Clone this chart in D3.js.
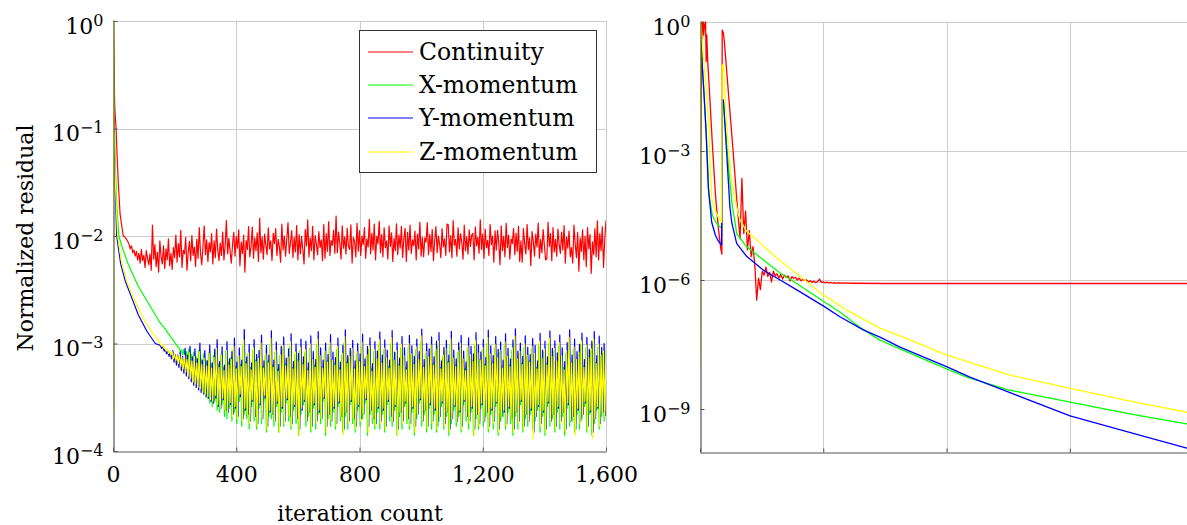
<!DOCTYPE html>
<html lang="en">
<meta charset="utf-8">
<head>
<script src="https://d3js.org/d3.v7.min.js"></script>
<style>
  body { margin: 0; background: #fff; }
  text { font-family: "DejaVu Serif", serif; fill: #000; }
</style>
</head>
<body>
<script>
// ---------------- data ----------------
var seriesNames = ["Continuity", "X-momentum", "Y-momentum", "Z-momentum"];
var seriesColors = ["#ff0000", "#00ff00", "#0000ff", "#ffff00"];

var xTicks = [0, 400, 800, 1200, 1600];
var leftYTicks = [1, 1e-1, 1e-2, 1e-3, 1e-4];
var rightYTicks = [1, 1e-3, 1e-6, 1e-9];

// left run: start of each curve, [iteration, residual]
var contHead = [[0, 1], [1, 1], [3, 0.35], [6, 0.15], [10, 0.1], [14, 0.05], [17, 0.032], [23, 0.016], [33, 0.0101], [42, 0.0095]];
var xmomHead = [[0, 1], [1, 1], [2, 0.45], [4, 0.12], [8, 0.04], [13, 0.018], [19, 0.01], [30, 0.0078], [50, 0.0054], [80, 0.0035],
  [110, 0.0025], [137, 0.00185]];
var ymomHead = [[0, 1], [1, 1], [2, 0.35], [4, 0.08], [7, 0.03], [12, 0.01], [25, 0.0055], [40, 0.0038], [60, 0.0027], [82, 0.00185],
  [110, 0.0013], [137, 0.001]];
var zmomHead = [[0, 0.00022], [1, 1], [2, 0.4], [4, 0.1], [8, 0.03], [15, 0.01], [28, 0.0057], [45, 0.0038], [65, 0.0027], [90, 0.0019],
  [120, 0.00135]];

// left run: oscillating part, one value every noiseStep iterations
var noiseStep = 4;
var contStart = 48, xmomStart = 150, ymomStart = 154, zmomStart = 152;
var contUnit = 1e-3, momUnit = 1e-4;
var contNoise = [
  8.9, 8.4, 7.6, 8.1, 7.0, 7.4, 6.5, 7.2, 6.0, 6.9, 5.6, 7.5, 5.9, 6.6, 5.1, 7.3, 6.2, 5.4, 6.8, 4.8,
  12.6, 6.1, 8.3, 5.2, 7.1, 4.6, 9.0, 6.4, 5.5, 8.1, 5.0, 7.6, 6.0, 9.4, 5.3, 6.9, 4.9, 7.8, 6.3, 10.2,
  5.7, 8.5, 6.4, 11.3, 5.1, 7.4, 6.8, 9.7, 4.8, 7.0, 8.9, 5.9, 10.1, 6.6, 7.9, 5.2, 9.3, 6.2, 12.0, 6.9,
  5.4, 8.0, 12.4, 6.7, 9.2, 5.8, 8.7, 7.1, 10.5, 5.5, 9.0, 6.3, 11.6, 7.4, 5.9, 8.6, 6.6, 10.9, 6.0, 8.2,
  13.9, 6.8, 9.5, 7.2, 5.6, 8.4, 10.8, 6.5, 9.9, 7.7, 11.4, 5.3, 8.8, 6.9, 10.2, 4.6, 9.1, 7.5, 12.2, 6.4,
  8.0, 12.1, 6.2, 9.6, 7.3, 10.7, 5.8, 14.6, 7.0, 9.8, 6.1, 10.4, 8.3, 6.7, 11.9, 7.6, 9.0, 5.9, 10.6, 8.5,
  11.7, 6.6, 9.3, 7.9, 5.7, 12.9, 7.4, 10.0, 6.5, 9.4, 13.3, 6.9, 8.7, 11.2, 6.3, 9.7, 7.1, 12.5, 6.0, 10.3,
  6.8, 9.9, 7.5, 5.5, 11.5, 8.1, 14.1, 6.4, 9.6, 7.3, 12.3, 6.0, 10.1, 8.4, 6.7, 11.0, 7.8, 9.2, 5.9, 12.8,
  6.2, 10.5, 7.2, 13.6, 6.6, 9.1, 8.2, 11.3, 6.9, 15.3, 7.0, 10.9, 8.6, 6.1, 12.4, 7.7, 9.8, 6.8, 11.8, 8.0,
  7.5, 12.7, 5.6, 9.7, 8.9, 6.4, 13.1, 7.2, 11.2, 6.6, 10.0, 8.3, 12.0, 6.2, 9.4, 7.9, 14.3, 6.8, 10.6, 7.4,
  12.9, 6.0, 9.9, 8.5, 13.7, 7.0, 10.3, 6.4, 11.9, 7.8, 9.0, 6.1, 12.4, 8.0, 10.7, 5.8, 9.5, 7.3, 13.0, 6.7,
  10.2, 7.7, 12.3, 6.3, 9.5, 11.8, 5.8, 10.8, 7.4, 12.6, 6.9, 9.2, 8.1, 11.1, 6.0, 10.4, 7.6, 13.4, 6.5, 9.7,
  6.4, 9.6, 8.8, 13.3, 6.7, 10.3, 7.2, 11.5, 5.9, 9.1, 12.2, 7.0, 10.0, 8.4, 6.3, 11.7, 7.9, 9.4, 6.6, 12.9,
  12.7, 7.1, 10.1, 6.3, 13.9, 8.2, 9.3, 6.5, 11.9, 7.6, 10.5, 8.7, 6.1, 12.6, 7.3, 9.8, 6.8, 11.4, 8.0, 10.2,
  10.6, 6.0, 12.1, 8.1, 9.7, 6.9, 14.1, 7.5, 10.4, 6.2, 11.6, 7.8, 9.1, 6.6, 12.8, 8.3, 10.0, 5.7, 11.2, 7.4,
  11.3, 8.6, 5.4, 12.4, 7.3, 9.9, 6.4, 13.1, 7.8, 10.2, 6.1, 9.4, 8.5, 11.8, 6.7, 10.6, 7.2, 12.3, 5.8, 9.0,
  5.7, 11.7, 8.4, 6.8, 12.8, 7.5, 9.6, 5.3, 11.0, 8.9, 6.5, 10.4, 7.9, 13.2, 6.2, 9.3, 7.0, 11.5, 8.2, 6.0,
  6.1, 13.4, 8.0, 10.5, 5.9, 12.0, 7.1, 9.3, 6.5, 11.6, 8.3, 6.9, 10.9, 7.4, 12.5, 5.6, 9.8, 7.7, 11.1, 6.4,
  7.8, 5.6, 12.6, 8.5, 6.3, 10.8, 4.7, 9.6, 7.2, 11.4, 6.0, 9.9, 5.2, 12.0, 7.6, 10.3, 4.5, 8.8, 6.7, 11.7,
  6.4, 13.8, 6.0, 10.5, 7.3, 12.2, 5.1, 9.4, 13.9];
var xmomNoise = [
  16.0, 15.5, 15.0, 14.6, 14.0, 13.6, 13.1, 12.5, 12.2, 11.6, 11.3, 10.8, 10.5, 10.0, 9.8, 9.3, 9.2, 8.6, 8.7, 7.9,
  8.8, 7.2, 8.4, 6.6, 8.9, 6.0, 7.9, 5.4, 8.3, 4.9, 7.5, 4.4, 8.6, 4.0, 7.2, 3.7, 8.0, 3.4, 7.0, 3.1,
  8.2, 2.8, 6.5, 2.6, 7.7, 2.9, 8.9, 2.4, 6.4, 2.3, 7.9, 2.7, 6.0, 2.1, 8.5, 2.0, 6.7, 2.5, 7.4, 1.9,
  8.8, 2.3, 6.1, 1.8, 7.6, 2.9, 6.4, 1.7, 9.6, 2.2, 6.8, 2.0, 8.0, 1.6, 6.0, 2.6, 8.7, 1.9, 7.0, 1.6,
  7.4, 2.5, 9.2, 1.8, 6.2, 2.9, 7.8, 1.5, 6.9, 2.1, 9.8, 2.0, 6.3, 1.7, 8.3, 2.6, 5.8, 1.5, 7.7, 2.3,
  8.9, 1.7, 6.5, 2.8, 7.3, 1.9, 9.4, 1.6, 6.0, 2.4, 7.9, 1.8, 7.0, 1.4, 8.6, 2.2, 6.6, 2.7, 8.2, 1.7,
  5.9, 2.1, 9.0, 1.5, 7.2, 2.5, 6.3, 1.6, 9.7, 2.2, 7.6, 1.8, 6.1, 2.9, 8.1, 1.4, 6.9, 2.0, 9.2, 1.7,
  7.1, 2.3, 6.5, 1.6, 8.8, 2.6, 6.0, 1.9, 7.8, 1.5, 10.1, 2.1, 6.7, 1.6, 7.4, 2.7, 8.5, 1.8, 6.1, 1.5,
  8.0, 2.4, 7.0, 1.7, 9.3, 2.0, 6.4, 2.8, 7.6, 1.4, 8.8, 2.2, 5.9, 1.8, 8.4, 1.6, 7.1, 2.3, 9.6, 1.6,
  6.8, 2.2, 8.6, 1.5, 7.3, 2.7, 6.1, 1.9, 9.9, 1.7, 7.0, 2.4, 8.2, 1.4, 6.4, 2.1, 9.0, 1.6, 7.5, 2.6,
  6.0, 1.8, 9.1, 1.6, 7.8, 2.3, 6.6, 1.4, 8.7, 2.0, 7.0, 2.8, 10.2, 1.7, 6.2, 2.2, 8.0, 1.5, 7.3, 2.5,
  8.9, 1.6, 6.5, 2.2, 8.4, 1.5, 9.5, 1.9, 6.0, 2.6, 7.6, 1.6, 8.5, 2.1, 6.8, 1.4, 9.8, 1.8, 7.1, 2.4,
  6.3, 1.7, 8.2, 2.1, 9.3, 1.5, 7.0, 2.7, 5.9, 1.9, 8.9, 1.6, 7.6, 2.3, 6.9, 1.4, 9.6, 2.0, 7.9, 1.6,
  7.1, 2.5, 8.7, 1.7, 6.4, 2.1, 10.0, 1.5, 7.7, 2.2, 6.7, 1.6, 9.0, 2.6, 7.2, 1.4, 8.3, 1.9, 6.1, 2.1,
  9.5, 1.6, 7.4, 2.3, 6.3, 1.8, 8.6, 1.4, 10.3, 2.1, 7.0, 1.6, 8.1, 2.7, 6.5, 1.5, 9.2, 2.0, 7.5, 1.7,
  6.9, 2.2, 8.8, 1.6, 7.8, 1.9, 6.0, 2.4, 9.6, 1.5, 7.1, 2.1, 8.4, 1.4, 6.5, 2.6, 10.0, 1.7, 7.3, 2.0,
  8.5, 1.5, 6.8, 2.3, 9.4, 1.6, 7.5, 2.1, 6.0, 1.4, 8.2, 2.5, 10.1, 1.7, 6.6, 1.9, 8.8, 1.5, 7.0, 2.2,
  7.9, 1.6, 9.7, 2.0, 6.2, 2.6, 9.0, 1.5, 7.3, 2.2, 8.5, 1.4, 9.9, 1.8, 6.6, 2.4, 9.3, 1.6, 7.6, 2.1,
  8.1, 1.9, 8.6];
var ymomNoise = [
  9.6, 9.0, 9.3, 8.5, 8.8, 8.0, 8.5, 7.6, 8.2, 7.2, 8.6, 6.7, 7.9, 6.3, 7.8, 6.0, 8.4, 5.6, 7.6, 5.3,
  9.0, 5.0, 7.8, 4.7, 9.4, 4.4, 7.5, 4.1, 8.9, 3.9, 7.2, 3.7, 10.1, 3.5, 7.0, 3.4, 8.6, 3.2, 6.9, 3.1,
  9.7, 2.9, 6.6, 2.8, 8.8, 3.1, 10.9, 2.6, 6.8, 2.5, 9.3, 3.0, 6.3, 2.4, 10.4, 2.3, 7.2, 2.7, 8.4, 2.2,
  11.2, 2.5, 6.7, 2.1, 9.1, 3.2, 7.0, 2.0, 13.5, 2.4, 7.5, 2.2, 9.8, 1.9, 6.6, 2.9, 10.9, 2.1, 7.9, 1.8,
  8.6, 2.7, 12.0, 2.0, 6.9, 3.1, 9.6, 1.7, 7.8, 2.3, 13.1, 2.2, 7.0, 1.9, 10.3, 2.8, 6.4, 1.7, 9.4, 2.5,
  11.5, 1.9, 7.3, 3.0, 8.9, 2.1, 12.3, 1.8, 6.8, 2.6, 9.9, 2.0, 8.1, 1.6, 11.0, 2.4, 7.5, 2.9, 10.5, 1.9,
  6.6, 2.3, 11.8, 1.7, 8.4, 2.7, 7.1, 1.9, 12.9, 2.3, 9.1, 2.0, 7.0, 3.1, 10.1, 1.7, 7.9, 2.2, 12.1, 1.9,
  8.3, 2.5, 7.4, 1.8, 11.2, 2.8, 6.7, 2.1, 9.6, 1.6, 13.4, 2.3, 7.7, 1.9, 9.0, 2.9, 10.7, 2.0, 6.9, 1.7,
  10.0, 2.6, 8.0, 2.0, 12.2, 2.2, 7.2, 3.0, 9.4, 1.7, 11.3, 2.4, 6.5, 2.0, 10.4, 1.8, 8.5, 2.5, 12.8, 1.9,
  7.8, 2.4, 10.8, 1.7, 8.7, 2.9, 7.0, 2.1, 13.2, 1.9, 8.3, 2.6, 10.2, 1.6, 7.3, 2.3, 11.6, 1.9, 9.1, 2.8,
  6.8, 2.0, 11.9, 1.8, 9.5, 2.5, 7.6, 1.7, 11.0, 2.2, 8.4, 3.0, 13.6, 1.9, 7.1, 2.4, 10.0, 1.7, 8.9, 2.7,
  11.5, 1.9, 7.5, 2.4, 10.5, 1.7, 12.6, 2.1, 6.9, 2.8, 9.2, 1.8, 10.7, 2.3, 7.8, 1.6, 13.0, 2.0, 8.7, 2.6,
  7.2, 1.9, 10.2, 2.3, 11.9, 1.7, 8.5, 2.9, 6.7, 2.1, 11.3, 1.9, 9.4, 2.5, 8.0, 1.6, 12.6, 2.2, 9.7, 1.8,
  8.3, 2.7, 10.9, 1.9, 7.4, 2.3, 13.3, 1.7, 9.5, 2.4, 7.7, 1.9, 11.6, 2.8, 8.8, 1.6, 10.3, 2.1, 7.0, 2.3,
  12.3, 1.8, 9.0, 2.5, 7.2, 2.0, 10.8, 1.6, 13.7, 2.3, 8.5, 1.9, 10.1, 2.9, 7.6, 1.7, 11.8, 2.2, 9.2, 1.9,
  7.9, 2.4, 11.1, 1.5, 9.6, 2.1, 6.9, 2.6, 12.4, 1.8, 8.7, 2.3, 10.5, 1.6, 7.5, 2.8, 13.1, 1.9, 9.0, 2.2,
  10.6, 1.7, 8.2, 2.5, 12.0, 1.9, 9.1, 2.3, 6.8, 1.6, 10.2, 2.7, 13.4, 1.9, 7.8, 2.1, 11.0, 1.6, 8.4, 2.4,
  9.8, 1.9, 12.5, 2.2, 7.1, 2.8, 11.4, 1.7, 8.8, 2.3, 10.5, 1.5, 12.9, 2.0, 7.7, 2.5, 11.7, 1.8, 9.2, 2.3,
  10.0, 2.1];
var zmomNoise = [
  10.2, 9.6, 9.8, 9.1, 9.3, 8.6, 8.9, 8.1, 8.5, 7.8, 8.4, 7.2, 8.0, 6.9, 7.7, 6.5, 7.9, 6.1, 7.4, 5.8,
  7.8, 5.4, 7.1, 5.0, 8.2, 4.7, 6.9, 4.4, 7.6, 4.2, 6.6, 3.9, 8.4, 3.8, 6.4, 3.5, 7.3, 3.4, 6.2, 3.2,
  8.1, 3.0, 5.9, 2.9, 7.4, 3.3, 9.0, 2.7, 6.0, 2.5, 7.8, 3.1, 5.6, 2.4, 8.6, 2.3, 6.3, 2.8, 7.1, 2.1,
  9.4, 2.6, 5.8, 2.0, 7.7, 3.4, 6.1, 1.9, 10.8, 2.5, 6.5, 2.2, 8.2, 1.8, 5.7, 3.0, 9.1, 2.1, 6.8, 1.7,
  7.3, 2.8, 10.1, 2.0, 5.9, 3.3, 8.0, 1.6, 6.6, 2.4, 11.2, 2.2, 6.0, 1.9, 8.7, 2.9, 5.5, 1.5, 7.9, 2.6,
  9.6, 1.8, 6.2, 3.1, 7.5, 2.1, 10.4, 1.7, 5.8, 2.7, 8.3, 2.0, 6.9, 1.4, 9.2, 2.5, 6.4, 3.0, 8.8, 1.9,
  5.6, 2.3, 9.9, 1.6, 7.1, 2.8, 6.0, 1.8, 11.0, 2.4, 7.7, 2.0, 5.9, 3.2, 8.5, 1.5, 6.7, 2.2, 10.2, 1.9,
  7.0, 2.6, 6.3, 1.7, 9.4, 2.9, 5.7, 2.1, 8.1, 1.4, 11.6, 2.3, 6.5, 1.8, 7.6, 3.0, 9.0, 2.0, 5.8, 1.6,
  8.4, 2.7, 6.8, 1.9, 10.3, 2.2, 6.1, 3.1, 7.9, 1.5, 9.5, 2.4, 5.5, 2.0, 8.8, 1.7, 7.2, 2.6, 10.9, 1.8,
  6.6, 2.5, 9.1, 1.6, 7.4, 3.0, 5.9, 2.1, 11.3, 1.9, 7.0, 2.7, 8.6, 1.4, 6.2, 2.3, 9.8, 1.8, 7.7, 2.9,
  5.7, 2.0, 10.0, 1.7, 8.0, 2.6, 6.4, 1.5, 9.3, 2.2, 7.1, 3.1, 11.8, 1.9, 6.0, 2.4, 8.4, 1.6, 7.5, 2.8,
  9.7, 1.8, 6.3, 2.5, 8.9, 1.6, 10.6, 2.1, 5.8, 2.9, 7.8, 1.7, 9.0, 2.3, 6.6, 1.5, 11.1, 2.0, 7.3, 2.7,
  6.1, 1.9, 8.6, 2.4, 10.1, 1.6, 7.2, 3.0, 5.6, 2.1, 9.5, 1.8, 7.9, 2.6, 6.8, 1.4, 10.7, 2.2, 8.2, 1.7,
  7.0, 2.8, 9.2, 1.9, 6.2, 2.3, 11.4, 1.6, 8.0, 2.5, 6.5, 1.8, 9.8, 2.9, 7.4, 1.5, 8.7, 2.1, 5.9, 2.4,
  10.4, 1.7, 7.6, 2.6, 6.1, 2.0, 9.1, 1.5, 11.7, 2.3, 7.2, 1.8, 8.5, 3.0, 6.4, 1.6, 10.0, 2.2, 7.8, 1.9,
  6.7, 2.5, 9.4, 1.3, 8.1, 2.1, 5.8, 2.7, 10.5, 1.7, 7.3, 2.4, 8.9, 1.5, 6.3, 2.9, 11.2, 1.9, 7.6, 2.2,
  9.0, 1.6, 6.9, 2.6, 10.2, 1.8, 7.7, 2.3, 5.7, 1.5, 8.6, 2.8, 11.5, 1.9, 6.6, 2.1, 9.3, 1.4, 7.1, 2.5,
  8.3, 1.8, 10.6, 2.2, 6.0, 2.9, 9.7, 1.6, 7.4, 2.4, 8.9, 1.3, 11.0, 2.0, 6.5, 2.6, 9.9, 1.7, 7.8, 2.3,
  8.5, 2.1, 9.2];

// right run, [iteration, residual]
var rContHead = [[0, 2e-4], [2, 1.5e-3], [4, 0.05], [6, 1], [8, 0.4], [10, 1], [12, 0.5], [14, 0.9], [16, 0.7], [18, 1],
  [20, 0.12], [22, 0.5], [25, 0.12], [30, 0.03], [40, 1.5e-3], [50, 1e-4], [60, 1.5e-5], [68, 5e-6], [71, 4e-6],
  [72, 0.65], [76, 0.55], [79, 0.35], [90, 0.036], [100, 4.6e-3], [110, 5.8e-4], [118, 1e-4]];
var rContStart = 124, rContStep = 6, rContUnit = 1e-6;
var rContNoise = [30, 9, 230, 12, 40, 5, 14, 3.5, 6, 2.2, 0.34, 1.1, 0.6, 1.6, 1.3, 2.0, 1.2, 1.5, 0.9, 1.6,
  1.25, 1.4, 1.1, 1.35, 1.05, 1.3, 1.15, 1.25, 0.95, 1.2, 1.1, 1.15, 1.0, 1.1, 0.95, 1.05, 0.98, 1.0, 0.9, 0.96,
  0.88, 0.94, 0.86, 0.92, 1.05, 0.88, 0.9, 0.86, 0.89, 0.85, 0.88, 0.84, 0.87, 0.85, 0.86];
var rContTail = [[500, 8.4e-7], [600, 8.3e-7], [800, 8.3e-7], [1000, 8.3e-7], [1200, 8.3e-7], [1400, 8.3e-7], [1600, 8.3e-7]];
var rXmom = [[0, 1], [3, 0.55], [8, 0.09], [14, 0.014], [20, 3e-3], [29, 9.5e-5], [40, 3.2e-5], [55, 2e-5], [70, 1.6e-5],
  [72, 0.014], [76, 0.014], [92, 4.7e-4], [105, 5e-5], [114, 2.2e-5], [119, 1.2e-5], [152, 5.9e-6], [205, 2.95e-6],
  [260, 1.45e-6], [314, 8.3e-7], [400, 3.2e-7], [454, 1.8e-7], [519, 7.9e-8], [584, 4e-8], [649, 2.5e-8], [802, 8.5e-9],
  [866, 5.5e-9], [1000, 2.8e-9], [1201, 1.45e-9], [1400, 7.6e-10], [1580, 4.5e-10], [1600, 4.3e-10]];
var rYmom = [[0, 1], [3, 0.5], [8, 0.08], [14, 0.017], [20, 2.5e-3], [27, 1.4e-4], [38, 2.2e-5], [50, 1.1e-5], [60, 7.9e-6], [70, 6.5e-6],
  [72, 0.0155], [76, 0.0155], [87, 8.1e-4], [97, 5e-5], [103, 2.2e-5], [119, 7.1e-6], [135, 5e-6], [152, 3.5e-6], [205, 1.7e-6],
  [260, 1e-6], [314, 5.9e-7], [400, 2.5e-7], [454, 1.4e-7], [530, 6.9e-8], [584, 4.7e-8], [649, 2.75e-8], [802, 9.5e-9],
  [876, 5.5e-9], [1000, 2.5e-9], [1201, 6.9e-10], [1400, 2.8e-10], [1580, 1.23e-10], [1600, 1.12e-10]];
var rZmom = [[0, 1e-8], [2, 1], [6, 0.5], [10, 0.2], [15, 0.071], [20, 0.025], [27, 6.3e-3], [33, 5e-4], [38, 7.9e-5], [50, 4e-5],
  [60, 2.8e-5], [70, 2.2e-5], [72, 0.1], [76, 0.1], [84, 7.9e-3], [92, 1.2e-3], [100, 3.2e-4], [110, 1e-4], [124, 3.5e-5],
  [130, 2.5e-5], [150, 1.4e-5], [184, 8.5e-6], [220, 5e-6], [260, 2.8e-6], [314, 1.4e-6], [400, 4.5e-7], [476, 2e-7],
  [584, 7.6e-8], [649, 5e-8], [802, 1.8e-8], [1000, 6.3e-9], [1201, 3e-9], [1400, 1.5e-9], [1600, 7.9e-10]];

// ---------------- build series ----------------
function build(head, noise, start, step, unit, tail) {
    var pts = head.slice();
    noise.forEach(function(v, i) { pts.push([start + i * step, v * unit]); });
    return tail ? pts.concat(tail) : pts;
}
var leftSeries = [
    build(contHead, contNoise, contStart, noiseStep, contUnit),
    build(xmomHead, xmomNoise, xmomStart, noiseStep, momUnit),
    build(ymomHead, ymomNoise, ymomStart, noiseStep, momUnit),
    build(zmomHead, zmomNoise, zmomStart, noiseStep, momUnit)
];
var rightSeries = [
    build(rContHead, rContNoise, rContStart, rContStep, rContUnit, rContTail),
    rXmom, rYmom, rZmom
];

// ---------------- svg ----------------
var W = 1187, H = 525;
var svg = d3.select("body").append("svg")
    .attr("width", W)
    .attr("height", H);

var gridColor = "#cccccc";
var axisColor = "#555555";

// 10^e tick labels
function sup(textSel, d) {
    var e = Math.round(Math.log10(d));
    textSel.text(null);
    textSel.append("tspan").text("10");
    textSel.append("tspan")
        .attr("dy", "-0.5em")
        .attr("font-size", "16px")
        .text(e === 0 ? "0" : "\u2212" + (-e));
}

function panel(opts) {
    var x = d3.scaleLinear().domain([0, 1600]).range(opts.xr);
    var y = d3.scaleLog().domain(opts.yd).range(opts.yr);
    var g = svg.append("g");

    var clipId = "clip" + opts.id;
    svg.append("clipPath").attr("id", clipId)
        .append("rect")
        .attr("x", opts.xr[0]).attr("y", opts.yr[1] - 1)
        .attr("width", opts.xr[1] - opts.xr[0]).attr("height", opts.yr[0] - opts.yr[1] + 1);

    // grid
    g.append("g").selectAll("line")
        .data(xTicks.slice(1))
        .enter().append("line")
        .attr("x1", function(d) { return Math.round(x(d)) + 0.5; })
        .attr("x2", function(d) { return Math.round(x(d)) + 0.5; })
        .attr("y1", opts.yr[0]).attr("y2", opts.yr[1])
        .attr("stroke", gridColor);
    g.append("g").selectAll("line")
        .data(opts.yTicks.slice(0, -1))
        .enter().append("line")
        .attr("x1", opts.xr[0]).attr("x2", opts.xr[1])
        .attr("y1", function(d) { return Math.round(y(d)) + 0.5; })
        .attr("y2", function(d) { return Math.round(y(d)) + 0.5; })
        .attr("stroke", gridColor);

    // data
    var line = d3.line()
        .x(function(d) { return x(d[0]); })
        .y(function(d) { return y(d[1]); });
    var lines = g.append("g").attr("clip-path", "url(#" + clipId + ")");
    opts.series.forEach(function(s, i) {
        lines.append("path")
            .datum(s)
            .attr("fill", "none")
            .attr("stroke", seriesColors[i])
            .attr("stroke-width", opts.lw)
            .attr("stroke-linejoin", "round")
            .attr("d", line);
    });

    // axes
    var xAxis = g.append("g")
        .attr("transform", "translate(0," + (opts.yr[0] + 0.5) + ")")
        .call(d3.axisBottom(x)
            .tickValues(xTicks)
            .tickSizeInner(-4).tickSizeOuter(0)
            .tickPadding(10)
            .tickFormat(opts.xLabels ? d3.format(",") : ""));
    var yAxis = g.append("g")
        .attr("transform", "translate(" + (opts.xr[0] + 0.5) + ",0)")
        .call(d3.axisLeft(y)
            .tickValues(opts.yTicks)
            .tickSizeInner(-4).tickSizeOuter(0)
            .tickPadding(10));
    [xAxis, yAxis].forEach(function(a) {
        a.select(".domain").attr("stroke", axisColor).attr("stroke-width", 1.2);
        a.selectAll(".tick line").attr("stroke", axisColor);
        a.selectAll("text")
            .attr("fill", "#000")
            .style("font-family", "'DejaVu Serif', serif")
            .style("font-size", "22px");
    });
    xAxis.selectAll("text").attr("dy", "0.95em");
    yAxis.selectAll(".tick text")
        .attr("dy", "0.55em")
        .each(function(d) { sup(d3.select(this), d); });
    return g;
}

panel({ id: "L", xr: [113, 606], yr: [451, 21], yd: [1e-4, 1], yTicks: leftYTicks, series: leftSeries, xLabels: true, lw: 1.2 });
panel({ id: "R", xr: [700, 1193], yr: [452, 22], yd: [1e-10, 1], yTicks: rightYTicks, series: rightSeries, xLabels: false, lw: 1.3 });

// axis titles
svg.append("text")
    .attr("x", 360).attr("y", 521)
    .attr("text-anchor", "middle")
    .style("font-size", "22px")
    .text("iteration count");
svg.append("text")
    .attr("transform", "translate(33,238) rotate(-90)")
    .attr("text-anchor", "middle")
    .style("font-size", "22px")
    .text("Normalized residual");

// legend
var legend = svg.append("g");
legend.append("rect")
    .attr("x", 359.5).attr("y", 30.5)
    .attr("width", 237).attr("height", 142)
    .attr("fill", "#fff")
    .attr("stroke", "#333");
seriesNames.forEach(function(name, i) {
    var ly = Math.round(52 + i * 33.2);
    legend.append("line")
        .attr("x1", 368).attr("x2", 413)
        .attr("y1", ly).attr("y2", ly)
        .attr("stroke", seriesColors[i]);
    legend.append("text")
        .attr("x", 419).attr("y", ly + 8)
        .style("font-size", "23.5px")
        .text(name);
});
</script>
</body>
</html>
